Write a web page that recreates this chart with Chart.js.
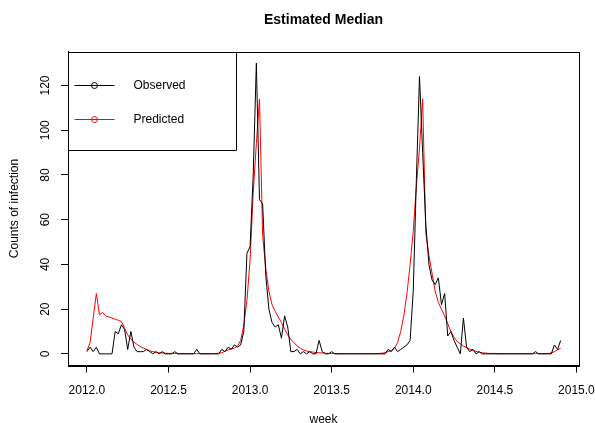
<!DOCTYPE html>
<html>
<head>
<meta charset="utf-8">
<title>Estimated Median</title>
<script src="https://cdn.jsdelivr.net/npm/chart.js@4.4.1/dist/chart.umd.min.js"></script>
<style>
  html, body { margin: 0; padding: 0; background: #fff; }
</style>
</head>
<body>
<canvas id="medianCanvas" width="595" height="423"></canvas>
<script>
// weekly series, first week = 2012.0
const startYear = 2012;
const weeksPerYear = 52;

const observedCounts = [
  1, 3, 1, 3, 0, 0, 0, 0, 0, 10, 9, 13, 11, 2, 10, 3, 1, 1, 1, 2,
  1, 0, 1, 0, 1, 0, 0, 0, 1, 0, 0, 0, 0, 0, 0, 2, 0, 0, 0, 0,
  0, 0, 0, 2, 1, 3, 2, 4, 3, 4, 10, 45, 48, 80, 130, 69, 67, 35, 20, 14,
  12, 13, 7, 17, 12, 1, 1, 2, 0, 1, 0, 1, 0, 0, 6, 1, 0, 0, 1, 0,
  0, 0, 0, 0, 0, 0, 0, 0, 0, 0, 0, 0, 0, 0, 0, 0, 2, 1, 3, 1,
  2, 3, 4, 6, 28, 78, 124, 90, 58, 40, 33, 31, 34, 22, 27, 8, 10, 6, 3, 0,
  16, 3, 1, 2, 0, 1, 0, 0, 0, 0, 0, 0, 0, 0, 0, 0, 0, 0, 0, 0,
  0, 0, 0, 1, 0, 0, 0, 0, 0, 4, 2, 6
];

const predictedCounts = [
  1.5, 5, 16, 27, 17.5, 18.5, 17, 16.5, 16, 15.5, 15, 14.5, 11.5, 8.5, 6.5, 5.2, 4.2, 3.3, 2.6, 2,
  1.4, 1, 0.7, 0.5, 0.4, 0.3, 0.2, 0.2, 0.2, 0.1, 0.1, 0.1, 0.1, 0.1, 0.1, 0.1, 0.1, 0.1, 0.1, 0.1,
  0.1, 0.2, 0.3, 0.5, 1.2, 1.8, 2.2, 2.6, 3.5, 6, 13, 24, 42, 72, 94, 114, 53, 38, 28, 22,
  19, 16.5, 14, 11, 8.5, 6.5, 5, 3.5, 2.5, 1.8, 1.3, 1, 0.8, 0.6, 0.5, 0.4, 0.3, 0.2, 0.2, 0.2,
  0.1, 0.1, 0.1, 0.1, 0.1, 0.1, 0.1, 0.1, 0.1, 0.1, 0.1, 0.1, 0.1, 0.2, 0.3, 0.5, 1, 1.5, 2.5, 5,
  10, 17, 27, 40, 55, 75, 92, 114, 54, 44, 36, 28, 23, 20, 17, 13.5, 10, 7.5, 5.5, 4.5,
  3.5, 2.8, 2.1, 1.6, 1.1, 0.8, 0.5, 0.4, 0.2, 0.2, 0.2, 0.1, 0.1, 0.1, 0.1, 0.1, 0.1, 0.1, 0.1, 0.1,
  0.1, 0.1, 0.1, 0.1, 0.1, 0.1, 0.1, 0.2, 0.4, 1, 1.8, 2.5
];

const xTickValues = [2012.0, 2012.5, 2013.0, 2013.5, 2014.0, 2014.5, 2015.0];
const yTickValues = [0, 20, 40, 60, 80, 100, 120];

const fontFamily = '"Liberation Sans", Arial, Helvetica, sans-serif';

function toPoints(values) {
    let points = [];
    for (let i = 0; i < values.length; i++) {
        points.push({ x: startYear + i / weeksPerYear, y: values[i] });
    }
    return points;
}

// frame round the plot region + the legend box in the top left corner
const boxAndLegend = {
    id: 'boxAndLegend',
    afterDraw(chart) {
        let ctx = chart.ctx;
        let area = chart.chartArea;
        ctx.save();
        ctx.strokeStyle = '#000';
        ctx.lineWidth = 1;
        let l = Math.round(area.left) + 0.5;
        let t = Math.round(area.top) + 0.5;
        let r = Math.round(area.right) + 0.5;
        let b = Math.round(area.bottom) + 0.5;
        ctx.strokeRect(l, t, r - l, b - t);

        // legend
        ctx.beginPath();
        ctx.moveTo(l, t + 98);
        ctx.lineTo(l + 168, t + 98);
        ctx.lineTo(l + 168, t);
        ctx.stroke();

        let entries = [
            { label: 'Observed', color: '#000', y: t + 32.5 },
            { label: 'Predicted', color: '#ff0000', y: t + 66 }
        ];
        ctx.font = '12px ' + fontFamily;
        ctx.textBaseline = 'middle';
        ctx.textAlign = 'left';
        entries.forEach(function(e) {
            let yy = Math.round(e.y) + 0.5;
            ctx.strokeStyle = e.color;
            ctx.beginPath();
            ctx.moveTo(l + 6, yy);
            ctx.lineTo(l + 46, yy);
            ctx.stroke();
            ctx.beginPath();
            ctx.arc(l + 26, yy, 3, 0, Math.PI * 2);
            ctx.stroke();
            ctx.fillStyle = '#000';
            ctx.fillText(e.label, l + 65, yy);
        });
        ctx.restore();
    }
};

let medianCanvas = document.getElementById('medianCanvas').getContext('2d');

let medianChart = new Chart(medianCanvas, {
    type: 'line',
    data: {
        datasets: [{
            label: 'Observed',
            data: toPoints(observedCounts),
            borderColor: '#000',
            borderWidth: 1,
            pointRadius: 0,
            tension: 0,
            fill: false
        }, {
            label: 'Predicted',
            data: toPoints(predictedCounts),
            borderColor: '#ff0000',
            borderWidth: 1,
            pointRadius: 0,
            tension: 0,
            fill: false
        }]
    },
    options: {
        responsive: false,
        animation: false,
        devicePixelRatio: 1,
        events: [],
        layout: { padding: { left: 0, right: 16, top: 0, bottom: 0 } },
        plugins: {
            legend: { display: false },
            tooltip: { enabled: false },
            title: {
                display: true,
                text: 'Estimated Median',
                fullSize: false,
                color: '#000',
                font: { family: fontFamily, size: 14, weight: 'bold', lineHeight: 1.2 },
                padding: { top: 12, bottom: 22.7 }
            }
        },
        scales: {
            x: {
                type: 'linear',
                min: 2011.884,
                max: 2015.016,
                afterBuildTicks: function(scale) {
                    scale.ticks = xTickValues.map(v => ({ value: v }));
                },
                afterFit: function(scale) {
                    scale.height = 57.5;
                    scale.paddingLeft = 0;
                    scale.paddingRight = 0;
                },
                ticks: {
                    color: '#000',
                    font: { family: fontFamily, size: 12 },
                    padding: 11,
                    maxRotation: 0,
                    autoSkip: false,
                    callback: v => v.toFixed(1)
                },
                grid: { display: true, drawOnChartArea: false, drawTicks: true, tickLength: 7, color: '#000' },
                border: { display: true, color: '#000' },
                title: {
                    display: true,
                    text: 'week',
                    color: '#000',
                    font: { family: fontFamily, size: 12, lineHeight: 1 },
                    padding: { top: 0, bottom: -3 }
                }
            },
            y: {
                type: 'linear',
                min: -5.2,
                max: 135.2,
                afterBuildTicks: function(scale) {
                    scale.ticks = yTickValues.map(v => ({ value: v }));
                },
                afterFit: function(scale) {
                    scale.width = 68;
                    scale.paddingTop = 0;
                    scale.paddingBottom = 0;
                },
                ticks: {
                    color: '#000',
                    font: { family: fontFamily, size: 12 },
                    minRotation: 90,
                    maxRotation: 90,
                    crossAlign: 'center',
                    padding: 5,
                    autoSkip: false
                },
                grid: { display: true, drawOnChartArea: false, drawTicks: true, tickLength: 7, color: '#000' },
                border: { display: true, color: '#000' },
                title: {
                    display: true,
                    text: 'Counts of infection',
                    color: '#000',
                    font: { family: fontFamily, size: 12, lineHeight: 1.2 },
                    padding: { top: 7.8, bottom: 0 }
                }
            }
        }
    },
    plugins: [boxAndLegend]
});
</script>
</body>
</html>
